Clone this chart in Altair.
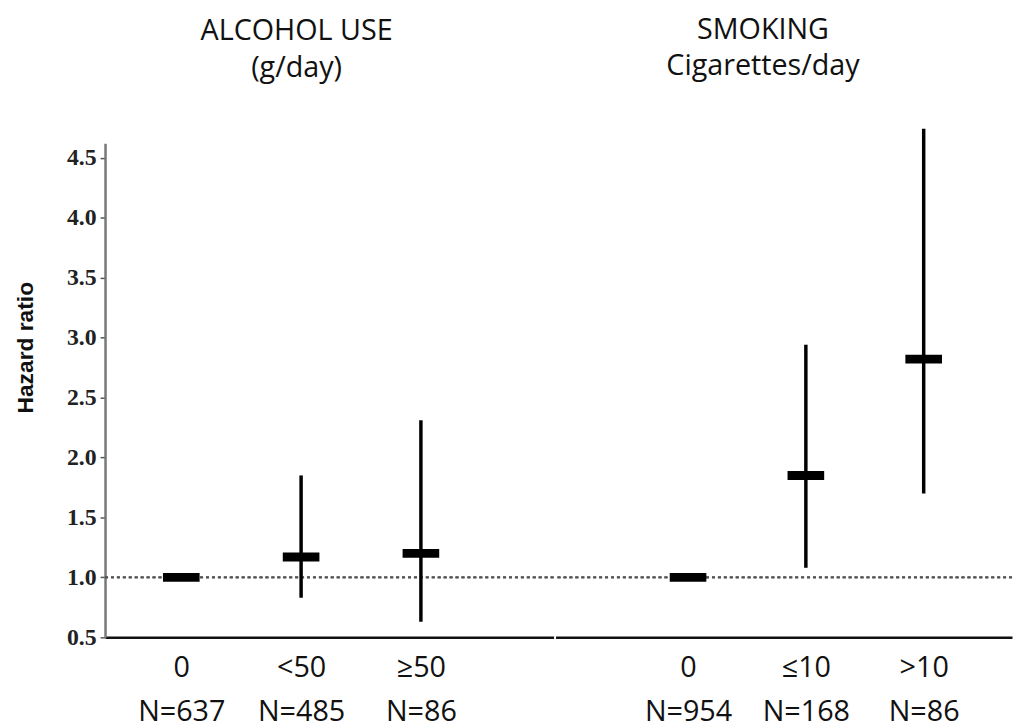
import altair as alt
import pandas as pd

# ---- data ----
alc_title = ["ALCOHOL USE", "(g/day)"]
alc_cats = ["0", "<50", "≥50"]
alc_n = ["N=637", "N=485", "N=86"]
alc_hr = [1.00, 1.17, 1.20]
alc_lo = [None, 0.83, 0.63]
alc_hi = [None, 1.85, 2.31]

smk_title = ["SMOKING", "Cigarettes/day"]
smk_cats = ["0", "≤10", ">10"]
smk_n = ["N=954", "N=168", "N=86"]
smk_hr = [1.00, 1.85, 2.82]
smk_lo = [None, 1.08, 1.70]
smk_hi = [None, 2.94, 4.74]

y_ticks = [0.5, 1.0, 1.5, 2.0, 2.5, 3.0, 3.5, 4.0, 4.5]
ref_value = 1.0
y_domain = [0.5, 4.62]


def frame(cats, ns, hr, lo, hi):
    labels = [c + "|" + n for c, n in zip(cats, ns)]
    return pd.DataFrame({"label": labels, "hr": hr, "lo": lo, "hi": hi}), labels


HEIGHT = 499


def panel(df, labels, title, width, padding, align, dx, offset, show_y):
    xscale = alt.Scale(type="point", domain=labels, padding=padding, align=align)
    xaxis = alt.Axis(
        title=None, ticks=False, tickSize=0, labelExpr="split(datum.value, '|')",
        labelFont="Open Sans", labelFontSize=29, labelColor="#111",
        labelLineHeight=44, labelPadding=17, domainColor="#111", domainWidth=2.5,
        labelAngle=0, grid=False,
    )
    if show_y:
        yaxis = alt.Axis(
            values=y_ticks, format=".1f", title="Hazard ratio",
            labelFont="Liberation Serif", labelFontWeight="bold", labelFontSize=24,
            labelColor="#222", labelPadding=4, tickSize=5, tickColor="#555",
            tickWidth=1.5, domainColor="#777", domainWidth=2.5, grid=False,
            titleFont="Liberation Sans", titleFontWeight="bold", titleFontSize=23,
            titleColor="#111", titleX=-80, titleY=206, titleAngle=270,
            titleAlign="center", titleBaseline="middle",
        )
    else:
        yaxis = None
    yscale = alt.Scale(domain=y_domain, nice=False, zero=False)

    base = alt.Chart(df)
    ref = base.mark_rule(color="#555", strokeDash=[3, 3], strokeWidth=1.6).encode(
        y=alt.datum(ref_value, scale=yscale, axis=yaxis)
    )
    whisk = base.mark_rule(color="#000", strokeWidth=3.5).encode(
        x=alt.X("label:N", scale=xscale, axis=xaxis, sort=labels),
        y=alt.Y("lo:Q", scale=yscale, axis=yaxis),
        y2="hi:Q",
    )
    tick = base.mark_tick(color="#000", size=37, thickness=9, opacity=1).encode(
        x=alt.X("label:N", scale=xscale, axis=xaxis, sort=labels),
        y=alt.Y("hr:Q", scale=yscale, axis=yaxis),
    )
    return alt.layer(ref, whisk, tick).properties(
        width=width, height=HEIGHT,
        title=alt.TitleParams(
            text=title, font="Open Sans", fontSize=29, fontWeight="normal",
            lineHeight=37, color="#111", anchor="middle", dx=dx, offset=offset,
            frame="group",
        ),
    )


adf, alabels = frame(alc_cats, alc_n, alc_hr, alc_lo, alc_hi)
sdf, slabels = frame(smk_cats, smk_n, smk_hr, smk_lo, smk_hi)

left = panel(adf, alabels, alc_title, 453, 0.872, 0.365, -33, 61, True)
right = panel(sdf, slabels, smk_title, 461, 0.937, 0.60, -21, 46.5, False)

chart = alt.hconcat(left, right, spacing=0).properties(
    padding={"left": 7, "top": 4, "right": 0, "bottom": 0},
    background="white",
).configure_view(stroke="transparent", strokeWidth=0)

chart.save("out.html", embed_options={"renderer": "svg", "actions": False})
